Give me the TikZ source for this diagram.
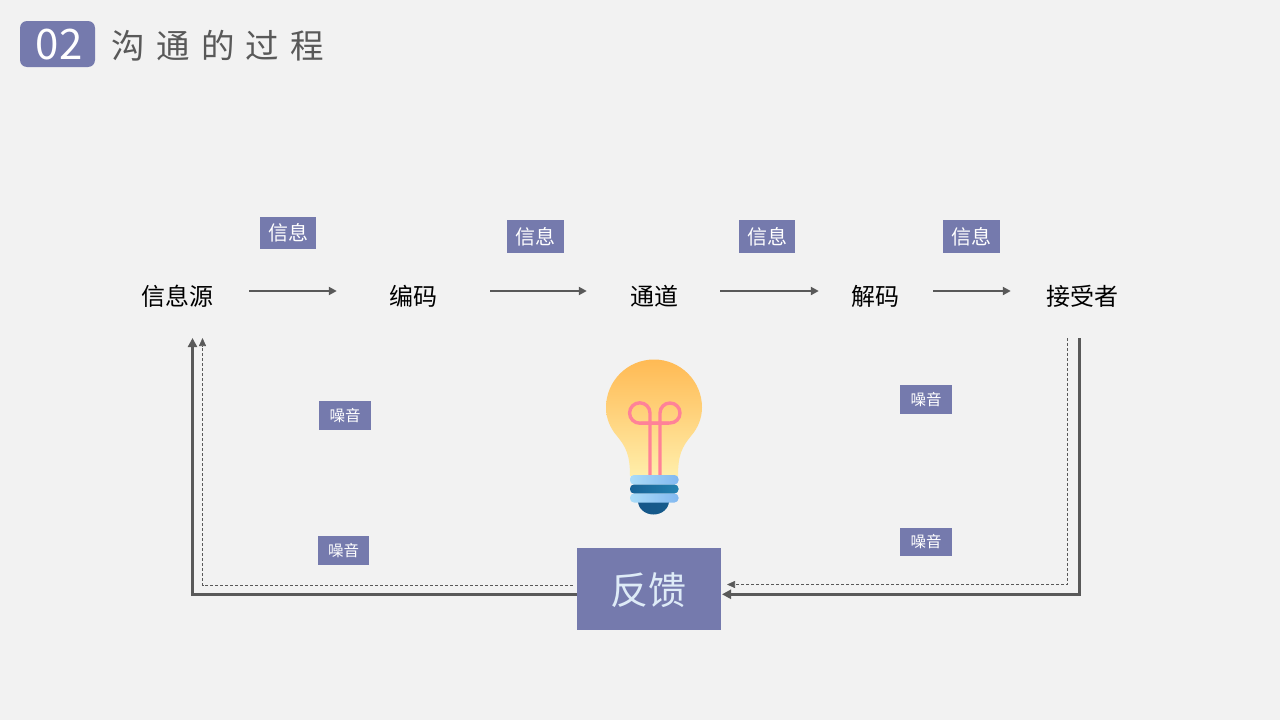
\documentclass[tikz,border=0pt]{standalone}
\usepackage{fontspec}
\setmainfont{Noto Sans CJK SC}
\usetikzlibrary{arrows.meta,calc}
\definecolor{bgc}{HTML}{F2F2F2}
\definecolor{purp}{HTML}{757AAD}
\definecolor{linec}{HTML}{595959}
\definecolor{fil}{HTML}{FF8298}
\tikzset{
  x=1pt,y=-1pt,
  tag/.style={fill=purp,text=white,inner sep=0pt,anchor=center},
  infotag/.style={tag,minimum width=56.5pt,minimum height=32.5pt,font=\fontsize{20}{20}\selectfont},
  noisetag/.style={tag,minimum width=52pt,minimum height=29pt,font=\fontsize{15.5}{16}\selectfont},
  stage/.style={text=black,inner sep=0pt,anchor=center,font=\fontsize{24}{24}\selectfont},
  flow/.style={draw=linec,line width=2.5pt,-{Triangle[length=8pt,width=8pt]}},
  thickline/.style={draw=linec,line width=3pt,-{Triangle[length=9pt,width=9pt]}},
  thinline/.style={draw=linec,line width=.7pt,densely dashed,-{Triangle[length=8pt,width=7pt]}},
  fila/.style={draw=fil,line width=3.4pt},
}
\begin{document}
\begin{tikzpicture}
\useasboundingbox (0,0) rectangle (1280,720);
\fill[bgc] (0,0) rectangle (1280,720);
% title
\node[fill=purp,rounded corners=7pt,minimum width=75pt,minimum height=46pt,inner sep=0pt] (num) at (57.5,44) {};
\node[text=white,inner sep=0pt,font=\fontsize{42}{42}\selectfont] (numt) at (59,45) {02};
\node[text=linec,inner sep=0pt,anchor=west,font=\fontsize{33.5}{34}\selectfont] (title) at (111.5,46) {沟\hspace{11.2pt}通\hspace{11.2pt}的\hspace{11.2pt}过\hspace{11.2pt}程};
% stages
\node[stage] (src) at (177,296.5) {信息源};
\node[stage] (enc) at (413,296.5) {编码};
\node[stage] (chn) at (654,296.5) {通道};
\node[stage] (dec) at (875,296.5) {解码};
\node[stage] (rcv) at (1082,296.5) {接受者};
% info tags
\node[infotag] (i1) at (288,233) {信息};
\node[infotag] (i2) at (535.5,236.5) {信息};
\node[infotag] (i3) at (767,236.5) {信息};
\node[infotag] (i4) at (971.5,236.5) {信息};
% noise tags
\node[noisetag] (n1) at (345,415.5) {噪音};
\node[noisetag] (n2) at (926,399.5) {噪音};
\node[noisetag,minimum width=51pt] (n3) at (343.5,550.5) {噪音};
\node[noisetag,minimum height=28pt] (n4) at (926,542) {噪音};
% feedback
\node[fill=purp,inner sep=0pt,minimum width=144pt,minimum height=82pt] (fb) at (649,589) {};
\node[text={rgb,255:red,222;green,235;blue,247},inner sep=0pt,font=\fontsize{38}{38}\selectfont] (fbt) at (648.5,590.5) {反馈};
% flow arrows
\draw[flow] ([xshift=36pt,yshift=5.5pt]src.east) -- ([xshift=-52pt,yshift=5.5pt]enc.west);
\draw[flow] ([xshift=53pt,yshift=5.5pt]enc.east) -- ([xshift=-43pt,yshift=5.5pt]chn.west);
\draw[flow] ([xshift=42pt,yshift=5.5pt]chn.east) -- ([xshift=-32pt,yshift=5.5pt]dec.west);
\draw[flow] ([xshift=34pt,yshift=5.5pt]dec.east) -- ([xshift=-35pt,yshift=5.5pt]rcv.west);
% feedback lines
\coordinate (rt) at (1079,338);
\coordinate (rd) at (1067.5,338);
\coordinate (lt) at (192.5,338);
\coordinate (ld) at (202.5,338);
\coordinate (fbr) at (722,594.3);
\coordinate (fbrd) at (727,584.5);
\coordinate (fbl) at (577,594.3);
\coordinate (fbld) at (573,585.5);
\draw[thickline] (rt) |- (fbr);
\draw[thinline] (rd) |- (fbrd);
\draw[thickline] (fbl) -| (lt);
\draw[thinline] (fbld) -| (ld);
% bulb
\shade[top color={rgb,255:red,255;green,186;blue,84},bottom color={rgb,255:red,255;green,238;blue,170}]
  (630,476) .. controls (630,455) and (626,447) .. (617,436)
  .. controls (610,428) and (606,418) .. (606,407.5)
  arc[start angle=180,end angle=0,radius=48,y radius=-48]
  .. controls (702,418) and (698,428) .. (691,436)
  .. controls (682,447) and (678,455) .. (678,476) -- cycle;
\draw[fila] (650,475) -- (650,413) arc[start angle=0,delta angle=270,radius=10.2,y radius=-10.2] -- (669,423.2);
\draw[fila] (660,475) -- (660,413) arc[start angle=180,delta angle=-270,radius=10,y radius=-10] -- (640,423.2);
\shade[left color={rgb,255:red,22;green,86;blue,136},right color={rgb,255:red,22;green,92;blue,140}]
  (638,501) arc[start angle=180,delta angle=180,radius=15.5,y radius=-13.5] -- cycle;
\shade[left color={rgb,255:red,170;green,220;blue,248},right color={rgb,255:red,130;green,184;blue,240},rounded corners=4pt]
  (630,475) rectangle (678.5,484.5);
\shade[left color={rgb,255:red,22;green,98;blue,150},right color={rgb,255:red,36;green,130;blue,176},rounded corners=4pt]
  (630,484.5) rectangle (678.5,493.5);
\shade[left color={rgb,255:red,170;green,220;blue,248},right color={rgb,255:red,130;green,184;blue,240},rounded corners=4pt]
  (630,493.5) rectangle (678.5,502.5);
\end{tikzpicture}
\end{document}
